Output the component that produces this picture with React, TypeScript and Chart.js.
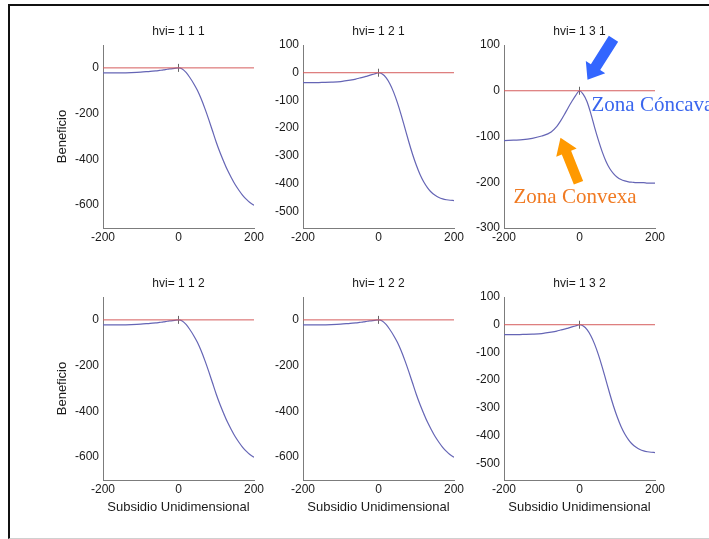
import React, { useEffect, useRef } from 'react';
import { Chart, registerables } from 'chart.js';

Chart.register(...registerables);

// ---- data ----
const subsidio = [-200, -175, -150, -125, -100, -75, -60, -50, -40, -30, -20, -10, 0, 10, 20, 30, 40, 50, 60, 70, 80, 90, 100, 110, 120, 130, 140, 150, 160, 170, 180, 190, 200];

const beneficio111 = [-22, -22, -22, -21, -19, -15, -13, -11, -9, -6, -4, -2, 0, -5, -20, -42, -68, -98, -135, -178, -225, -275, -325, -370, -410, -448, -480, -510, -535, -557, -575, -590, -600];
const beneficio121 = [-36, -36, -35, -34, -32, -27, -23, -19, -16, -12, -8, -4, 0, -5, -18, -40, -70, -108, -152, -200, -248, -293, -333, -367, -394, -415, -431, -442, -450, -455, -458, -460, -461];
const beneficio131 = [-109, -108, -107, -104, -99, -90, -78, -66, -52, -37, -23, -10, 0, -8, -24, -50, -80, -108, -133, -154, -170, -181, -189, -194, -197, -199, -200, -201, -201, -201, -202, -202, -202];
const beneficio112 = [-22, -22, -22, -21, -19, -15, -13, -11, -9, -6, -4, -2, 0, -5, -20, -42, -68, -98, -135, -178, -225, -275, -325, -370, -410, -448, -480, -510, -535, -557, -575, -590, -600];
const beneficio122 = [-22, -22, -22, -21, -19, -15, -13, -11, -9, -6, -4, -2, 0, -5, -20, -42, -68, -98, -135, -178, -225, -275, -325, -370, -410, -448, -480, -510, -535, -557, -575, -590, -600];
const beneficio132 = [-36, -36, -35, -34, -32, -27, -23, -19, -16, -12, -8, -4, 0, -5, -18, -40, -70, -108, -152, -200, -248, -293, -333, -367, -394, -415, -431, -442, -450, -455, -458, -460, -461];

const zeroLineX = [-200, 200];
const zeroLineY = [0, 0];
const peakX = [0];
const peakY = [0];

const xTicks = [-200, 0, 200];
const yTicksA = [0, -200, -400, -600];
const yTicksB = [100, 0, -100, -200, -300, -400, -500];
const yTicksC = [100, 0, -100, -200, -300];

const panelTitles = ['hvi= 1 1 1', 'hvi= 1 2 1', 'hvi= 1 3 1', 'hvi= 1 1 2', 'hvi= 1 2 2', 'hvi= 1 3 2'];
const xAxisTitle = 'Subsidio Unidimensional';
const yAxisTitle = 'Beneficio';
const noteConcave = 'Zona Cóncava';
const noteConvex = 'Zona Convexa';

// ---- layout / style ----
const FONT = 'Arial, "Liberation Sans", Helvetica, sans-serif';
const SERIF = '"Times New Roman", "Liberation Serif", serif';
const AXIS = '#7c7c7c';
const TEXT = '#1a1a1a';
const RED = '#d55c5c';
const BLUE = '#6565b5';

const colLeft = [103, 303, 504];
const rowTop = [45, 297];
const plotW = 151;
const plotH = 183;
const titleH = 24;

const panels = [
  { title: panelTitles[0], values: beneficio111, yMin: -700, yMax: 100, yTicks: yTicksA, row: 0, col: 0 },
  { title: panelTitles[1], values: beneficio121, yMin: -560, yMax: 100, yTicks: yTicksB, row: 0, col: 1 },
  { title: panelTitles[2], values: beneficio131, yMin: -300, yMax: 100, yTicks: yTicksC, row: 0, col: 2, notes: true },
  { title: panelTitles[3], values: beneficio112, yMin: -700, yMax: 100, yTicks: yTicksA, row: 1, col: 0 },
  { title: panelTitles[4], values: beneficio122, yMin: -700, yMax: 100, yTicks: yTicksA, row: 1, col: 1 },
  { title: panelTitles[5], values: beneficio132, yMin: -560, yMax: 100, yTicks: yTicksB, row: 1, col: 2 },
];

function drawArrow(ctx: CanvasRenderingContext2D, tx: number, ty: number, px: number, py: number, sw: number, hw: number, hl: number, color: string) {
  const dx = px - tx, dy = py - ty;
  const len = Math.hypot(dx, dy);
  const ux = dx / len, uy = dy / len;
  const nx = -uy, ny = ux;
  const bx = px - ux * hl, by = py - uy * hl;
  ctx.beginPath();
  ctx.moveTo(tx + nx * sw / 2, ty + ny * sw / 2);
  ctx.lineTo(bx + nx * sw / 2, by + ny * sw / 2);
  ctx.lineTo(bx + nx * hw / 2, by + ny * hw / 2);
  ctx.lineTo(px, py);
  ctx.lineTo(bx - nx * hw / 2, by - ny * hw / 2);
  ctx.lineTo(bx - nx * sw / 2, by - ny * sw / 2);
  ctx.lineTo(tx - nx * sw / 2, ty - ny * sw / 2);
  ctx.closePath();
  ctx.fillStyle = color;
  ctx.fill();
}

const notesPlugin = {
  id: 'zoneNotes',
  afterDraw(chart: any) {
    if (!chart.options.plugins.zoneNotes?.enabled) return;
    const ctx = chart.ctx as CanvasRenderingContext2D;
    const x0 = chart.scales.x.getPixelForValue(peakX[0]);
    const y0 = chart.scales.y.getPixelForValue(peakY[0]);
    ctx.save();
    drawArrow(ctx, x0 + 34, y0 - 52, x0 + 8, y0 - 11, 11, 23, 15, '#3366ff');
    drawArrow(ctx, x0 - 1, y0 + 92, x0 - 19, y0 + 47, 10, 22, 16, '#ff9900');
    ctx.font = `21px ${SERIF}`;
    ctx.textBaseline = 'middle';
    ctx.textAlign = 'left';
    ctx.fillStyle = '#3a66ee';
    ctx.fillText(noteConcave, x0 + 12, y0 + 15);
    ctx.fillStyle = '#f07a22';
    ctx.fillText(noteConvex, x0 - 66, y0 + 107);
    ctx.restore();
  },
};

function Panel({ p }: { p: any }) {
  const ref = useRef<HTMLCanvasElement>(null);
  const yAxisW = p.col === 0 ? 60 : 46;
  const padRight = p.col === 2 ? 709 - (colLeft[2] + plotW) : 14;
  const xAxisH = p.row === 1 ? 42 : 20;
  const left = colLeft[p.col] - yAxisW;
  const top = rowTop[p.row] - titleH;
  const width = yAxisW + plotW + padRight;
  const height = titleH + plotH + xAxisH;

  useEffect(() => {
    const font = { family: FONT, size: 12, lineHeight: '14px' } as any;
    const titleFont = { family: FONT, size: 13, lineHeight: '14px' } as any;
    const chart = new Chart(ref.current as HTMLCanvasElement, {
      type: 'line',
      data: {
        datasets: [
          {
            data: zeroLineX.map((x, i) => ({ x, y: zeroLineY[i] })),
            borderColor: RED,
            borderWidth: 1,
            pointRadius: 0,
          },
          {
            data: subsidio.map((x, i) => ({ x, y: p.values[i] })),
            borderColor: BLUE,
            borderWidth: 1.2,
            pointRadius: 0,
            cubicInterpolationMode: 'monotone',
          },
          {
            data: peakX.map((x, i) => ({ x, y: peakY[i] })),
            showLine: false,
            pointStyle: 'line',
            pointRotation: 90,
            pointRadius: 4,
            borderColor: '#666',
            borderWidth: 1,
          },
        ],
      } as any,
      plugins: [notesPlugin],
      options: {
        animation: false,
        responsive: false,
        devicePixelRatio: 1,
        layout: { padding: { left: 0, right: padRight, top: 0, bottom: 0 } },
        plugins: {
          legend: { display: false },
          tooltip: { enabled: false },
          title: {
            display: true,
            text: p.title,
            fullSize: false,
            color: TEXT,
            font: { ...font, weight: 'normal' },
            padding: { top: 4, bottom: 6 },
          },
          zoneNotes: { enabled: !!p.notes },
        } as any,
        scales: {
          x: {
            type: 'linear',
            min: -200,
            max: 200,
            grid: { display: false, drawTicks: false },
            border: { display: true, color: AXIS, width: 1 },
            ticks: { font, color: TEXT, padding: 3, maxRotation: 0, autoSkip: false },
            afterBuildTicks: (s: any) => { s.ticks = xTicks.map((v) => ({ value: v })); },
            afterFit: (s: any) => { s.height = xAxisH; },
            title: {
              display: p.row === 1,
              text: xAxisTitle,
              color: TEXT,
              font: titleFont,
              padding: { top: 0, bottom: 8 },
            },
          },
          y: {
            type: 'linear',
            min: p.yMin,
            max: p.yMax,
            grid: { display: false, drawTicks: false },
            border: { display: true, color: AXIS, width: 1 },
            ticks: { font, color: TEXT, padding: 4, autoSkip: false },
            afterBuildTicks: (s: any) => { s.ticks = p.yTicks.map((v: number) => ({ value: v })); },
            afterFit: (s: any) => { s.width = yAxisW; },
            title: {
              display: p.col === 0,
              text: yAxisTitle,
              color: TEXT,
              font: titleFont,
              padding: { top: 12, bottom: 0 },
            },
          },
        },
      } as any,
    });
    return () => chart.destroy();
  }, []);

  return (
    <canvas
      ref={ref}
      width={width}
      height={height}
      style={{ position: 'absolute', left, top, width, height }}
    />
  );
}

export default function App() {
  return (
    <div style={{ position: 'absolute', left: 0, top: 0, width: 709, height: 539, overflow: 'hidden', background: '#fff' }}>
      <div
        style={{
          position: 'absolute',
          left: 8,
          top: 4,
          width: 720,
          height: 532,
          borderTop: '2px solid #111',
          borderLeft: '2px solid #111',
          borderBottom: '1px solid #d0d0d0',
        }}
      />
      {panels.map((p, i) => (
        <Panel key={i} p={p} />
      ))}
    </div>
  );
}
